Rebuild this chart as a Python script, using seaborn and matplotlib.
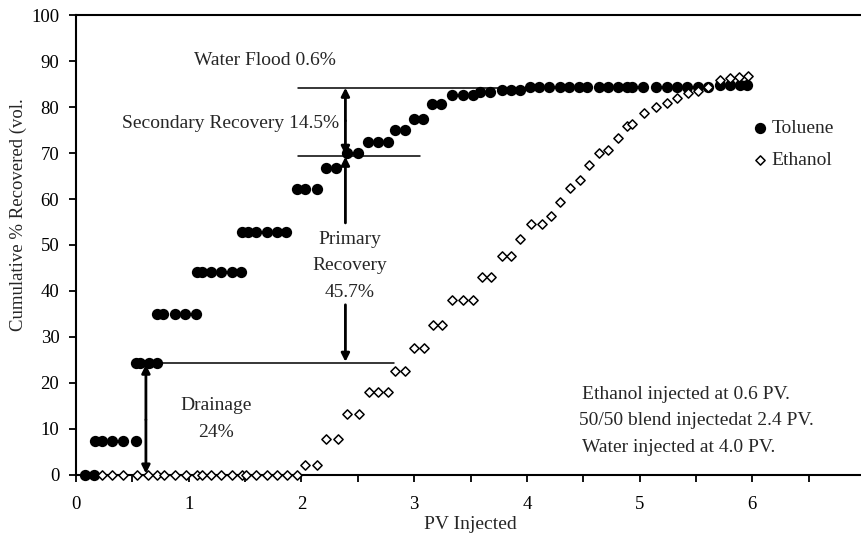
import matplotlib
matplotlib.use("Agg")
import matplotlib.pyplot as plt
import seaborn as sns
import pandas as pd

# toluene recovery (PV injected, cumulative %)
toluene_pv = [0.08, 0.16,
              0.17, 0.23, 0.32, 0.42, 0.53,
              0.53, 0.57, 0.65, 0.72,
              0.72, 0.77, 0.88, 0.97, 1.06,
              1.07, 1.12, 1.20, 1.29, 1.38, 1.46,
              1.47, 1.53, 1.60, 1.69, 1.78, 1.86,
              1.96, 2.03, 2.14, 2.22, 2.31, 2.40, 2.50,
              2.59, 2.68, 2.77, 2.83, 2.92, 3.00, 3.08, 3.16, 3.24,
              3.34, 3.43, 3.52, 3.58, 3.67, 3.78, 3.86, 3.94,
              4.03, 4.11, 4.20, 4.29, 4.37, 4.46, 4.53, 4.64, 4.72, 4.81,
              4.89, 4.93, 5.03, 5.15, 5.24, 5.33, 5.42, 5.52, 5.61,
              5.71, 5.80, 5.89, 5.95]
toluene_rec = [0, 0,
               7.4, 7.4, 7.4, 7.4, 7.4,
               24.4, 24.4, 24.4, 24.4,
               34.9, 34.9, 34.9, 34.9, 34.9,
               44.1, 44.1, 44.1, 44.1, 44.1, 44.1,
               52.8, 52.8, 52.8, 52.8, 52.8, 52.8,
               62.2, 62.2, 62.2, 66.7, 66.7, 69.9, 69.9,
               72.5, 72.5, 72.5, 74.9, 74.9, 77.5, 77.5, 80.6, 80.6,
               82.6, 82.6, 82.6, 83.3, 83.3, 83.8, 83.8, 83.8,
               84.3, 84.3, 84.3, 84.3, 84.3, 84.3, 84.3, 84.3, 84.3, 84.3,
               84.3, 84.3, 84.3, 84.3, 84.3, 84.3, 84.3, 84.3, 84.3,
               84.8, 84.8, 84.8, 84.8]

# ethanol recovery
ethanol_pv = [0.23, 0.32, 0.42, 0.54, 0.64, 0.72, 0.78, 0.88, 0.98, 1.07,
              1.12, 1.20, 1.29, 1.38, 1.47, 1.51, 1.60, 1.69, 1.78, 1.87, 1.96,
              2.03, 2.14, 2.22, 2.32, 2.40, 2.51, 2.60, 2.68, 2.77,
              2.83, 2.92, 3.00, 3.09, 3.17, 3.25, 3.34, 3.43, 3.52,
              3.60, 3.68, 3.78, 3.86, 3.94, 4.04, 4.13, 4.21, 4.29,
              4.38, 4.47, 4.55, 4.64, 4.72, 4.81, 4.89, 4.93, 5.04,
              5.15, 5.24, 5.33, 5.43, 5.52, 5.61, 5.71, 5.80, 5.88, 5.96]
ethanol_rec = [0, 0, 0, 0, 0, 0, 0, 0, 0, 0,
               0, 0, 0, 0, 0, 0, 0, 0, 0, 0, 0,
               2.2, 2.2, 7.8, 7.8, 13.2, 13.2, 18.1, 18.1, 18.1,
               22.6, 22.6, 27.7, 27.7, 32.5, 32.5, 38.0, 38.0, 38.0,
               43.0, 43.0, 47.5, 47.5, 51.2, 54.5, 54.5, 56.2, 59.4,
               62.3, 64.1, 67.3, 69.9, 70.7, 73.3, 75.9, 76.2, 78.6,
               79.9, 80.9, 82.0, 83.0, 83.5, 84.3, 85.9, 86.4, 86.6, 86.8]

notes = ["Ethanol injected at 0.6 PV.",
         "50/50 blend injectedat 2.4 PV.",
         "Water injected at 4.0 PV."]

sns.set_style("ticks")
plt.rcParams['font.family'] = ['Liberation Serif', 'DejaVu Serif']

fig = plt.figure(figsize=(8.62, 5.34), dpi=100)
ax = fig.add_axes([0.0882, 0.1105, 0.9153, 0.8614])

tol = pd.DataFrame({'pv': toluene_pv, 'rec': toluene_rec})
eth = pd.DataFrame({'pv': ethanol_pv, 'rec': ethanol_rec})

sns.scatterplot(data=tol, x='pv', y='rec', marker='o', s=66, color='black',
                edgecolor='black', linewidth=0, ax=ax, label='Toluene',
                zorder=3, clip_on=False)
sns.scatterplot(data=eth, x='pv', y='rec', marker='D', s=22, facecolor='white',
                edgecolor='black', linewidth=1.1, ax=ax, label='Ethanol',
                zorder=4, clip_on=False)

ax.set_xlim(0, 7)
ax.set_ylim(0, 100)
ax.set_xticks(range(0, 8))
ax.set_xticks([i + 0.5 for i in range(7)], minor=True)
ax.set_yticks(range(0, 101, 10))
ax.tick_params(axis='both', which='both', direction='out', width=1.3, length=5,
               labelsize=13.5, colors='black')
ax.tick_params(axis='x', pad=10)
ax.tick_params(axis='y', pad=7)
for side in ['left', 'bottom', 'top', 'right']:
    ax.spines[side].set_visible(True)
    ax.spines[side].set_linewidth(1.5)
    ax.spines[side].set_color('black')

ax.set_xlabel("PV Injected", fontsize=14)
ax.xaxis.set_label_coords(0.5, -0.09)
ax.set_ylabel("Cumulative % Recovered (vol.", fontsize=13.5)
ax.yaxis.set_label_coords(-0.062, 0.565)

# reference lines
ax.plot([1.97, 4.0], [84.2, 84.2], color='black', lw=1.1, zorder=2)
ax.plot([1.97, 3.05], [69.4, 69.4], color='black', lw=1.1, zorder=2)
ax.plot([0.76, 2.82], [24.4, 24.4], color='black', lw=1.1, zorder=2)

arrow = dict(arrowstyle='-|>', color='black', lw=2, mutation_scale=12,
             shrinkA=0, shrinkB=0)
# secondary recovery
ax.annotate('', xy=(2.39, 84.2), xytext=(2.39, 77), arrowprops=arrow)
ax.annotate('', xy=(2.39, 69.6), xytext=(2.39, 77), arrowprops=arrow)
# primary recovery
ax.annotate('', xy=(2.39, 69.2), xytext=(2.39, 54.8), arrowprops=arrow)
ax.annotate('', xy=(2.39, 24.6), xytext=(2.39, 37.0), arrowprops=arrow)
# drainage
ax.annotate('', xy=(0.62, 24.0), xytext=(0.62, 12), arrowprops=arrow)
ax.annotate('', xy=(0.62, 0.3), xytext=(0.62, 12), arrowprops=arrow)

ax.text(1.68, 90.2, "Water Flood 0.6%", fontsize=14, ha='center', va='center')
ax.text(2.33, 76.5, "Secondary Recovery 14.5%", fontsize=14, ha='right', va='center')
ax.text(2.43, 45.5, "Primary\nRecovery\n45.7%", fontsize=14, ha='center',
        va='center', linespacing=1.72)
ax.text(1.24, 12.2, "Drainage\n24%", fontsize=14, ha='center', va='center',
        linespacing=1.72)
for i, line in enumerate(notes):
    ax.text(4.49 - (0.03 if i == 1 else 0), 17.5 - 5.75 * i, line, fontsize=14,
            ha='left', va='center')

ax.legend(loc='upper left', bbox_to_anchor=(0.845, 0.79), frameon=False,
          fontsize=14, handletextpad=0.1, labelspacing=0.75, borderaxespad=0,
          handlelength=1.0)

fig.savefig("out.png", dpi=100)
